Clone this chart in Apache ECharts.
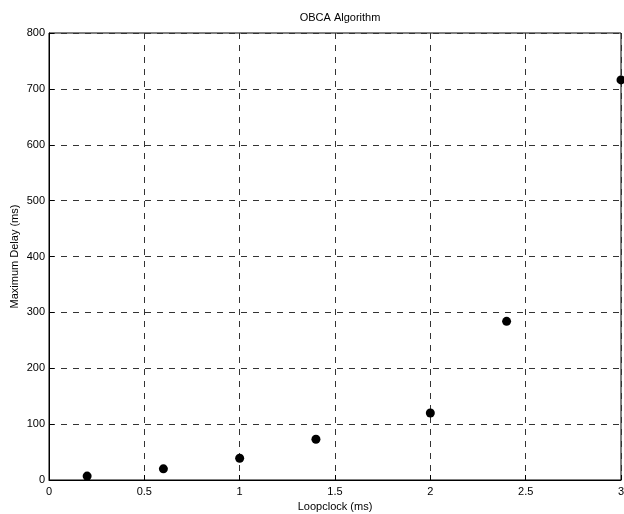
<!DOCTYPE html>
<html><head><meta charset="utf-8">
<script src="https://cdn.jsdelivr.net/npm/echarts@6/dist/echarts.min.js"></script>
<style>html,body{margin:0;padding:0;background:#fff}#c{width:624px;height:514px}</style>
</head><body><div id="c"></div>
<script>
var loopclock = [0.2, 0.6, 1.0, 1.4, 2.0, 2.4, 3.0];
var maxDelay = [7, 20, 39, 73, 120, 284, 716];
var xTicks = [0, 0.5, 1, 1.5, 2, 2.5, 3];
var yTicks = [0, 100, 200, 300, 400, 500, 600, 700, 800];

var chart = echarts.init(document.getElementById('c'), null, {renderer: 'canvas'});
var font = 'Liberation Sans, Arial, sans-serif';
var dashStyle = {color: '#333', type: [6, 6], width: 1};
chart.setOption({
  animation: false,
  backgroundColor: '#fff',
  title: {text: 'OBCA Algorithm', left: 335, top: 7, textAlign: 'center',
    textStyle: {fontFamily: font, fontSize: 11, fontWeight: 'normal', color: '#000'}},
  grid: {left: 49, right: 3, top: 33, bottom: 34, containLabel: false, outerBoundsMode: 'none',
    show: true, borderColor: '#000', borderWidth: 1, backgroundColor: 'transparent'},
  xAxis: {
    type: 'value', min: 0, max: 3, interval: 0.5,
    name: 'Loopclock (ms)', nameLocation: 'middle', nameGap: 19,
    nameTextStyle: {fontFamily: font, fontSize: 11, color: '#000'},
    axisLine: {lineStyle: {color: '#000'}},
    axisTick: {inside: true, length: 5, lineStyle: {color: '#000'}},
    axisLabel: {fontFamily: font, fontSize: 11, color: '#000', margin: 6,
      formatter: function (v) { return xTicks.indexOf(v) >= 0 ? String(v) : ''; }},
    splitLine: {show: true, lineStyle: dashStyle}
  },
  yAxis: {
    type: 'value', min: 0, max: 800, interval: 100,
    name: 'Maximum Delay (ms)', nameLocation: 'middle', nameGap: 29, nameMoveOverlap: false,
    nameTextStyle: {fontFamily: font, fontSize: 11, color: '#000'},
    axisLine: {show: true, lineStyle: {color: '#000'}},
    axisTick: {show: true, inside: true, length: 5, lineStyle: {color: '#000'}},
    axisLabel: {fontFamily: font, fontSize: 11, color: '#000', margin: 4,
      formatter: function (v) { return yTicks.indexOf(v) >= 0 ? String(v) : ''; }},
    splitLine: {show: true, lineStyle: dashStyle}
  },
  series: [{
    type: 'scatter', data: loopclock.map(function (x, i) { return [x, maxDelay[i]]; }),
    symbol: 'circle', symbolSize: 9, clip: false,
    itemStyle: {color: '#000', opacity: 1}
  }]
});
</script></body></html>
